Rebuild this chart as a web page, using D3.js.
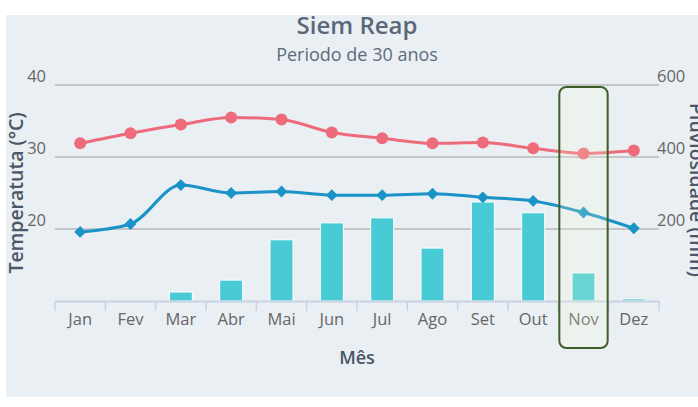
<!DOCTYPE html>
<html>
<head>
<meta charset="utf-8">
<script src="https://cdn.jsdelivr.net/npm/d3@7"></script>
<style>
  body { margin: 0; background: #fff; font-family: "Open Sans", sans-serif; }
  svg { display: block; }
</style>
</head>
<body>
<svg id="chart" width="698" height="407"></svg>
<script>
const months = ["Jan", "Fev", "Mar", "Abr", "Mai", "Jun", "Jul", "Ago", "Set", "Out", "Nov", "Dez"];
const tempMax = [31.9, 33.3, 34.5, 35.5, 35.2, 33.4, 32.6, 31.9, 32.0, 31.2, 30.5, 30.9];
const tempMin = [19.6, 20.7, 26.1, 25.0, 25.2, 24.7, 24.7, 24.9, 24.4, 23.9, 22.3, 20.1];
const rain = [0, 0, 25, 58, 170, 217, 231, 147, 275, 245, 78, 6];
const tempTicks = [20, 30, 40];
const rainTicks = [200, 400, 600];
const highlight = "Nov";

const svg = d3.select("#chart");
const W = 698, H = 407;
const m = { left: 55, right: 659, top: 85, bottom: 301 };

svg.append("rect")
    .attr("x", 6).attr("y", 15)
    .attr("width", W - 6).attr("height", 382)
    .attr("fill", "#eaeff4");

const x = d3.scaleBand().domain(months).range([m.left, m.right]);
const yT = d3.scaleLinear().domain([10, 40]).range([m.bottom, m.top]);
const yR = d3.scaleLinear().domain([0, 600]).range([m.bottom, m.top]);

// grid
svg.append("g").selectAll("line")
    .data(tempTicks)
    .join("line")
    .attr("x1", m.left).attr("x2", m.right)
    .attr("y1", d => yT(d)).attr("y2", d => yT(d))
    .attr("stroke", "#c6c6c6").attr("stroke-width", 2);

// left tick labels
svg.append("g").selectAll("text")
    .data(tempTicks)
    .join("text")
    .attr("x", 46).attr("y", d => yT(d) - 3)
    .attr("text-anchor", "end")
    .attr("font-size", 16.5).attr("fill", "#666")
    .text(d => d);

// right tick labels
svg.append("g").selectAll("text")
    .data(rainTicks)
    .join("text")
    .attr("x", 657).attr("y", d => yR(d) - 3)
    .attr("font-size", 16.5).attr("fill", "#666")
    .text(d => d);

// bars
const bw = 23;
svg.append("g").selectAll("rect")
    .data(rain)
    .join("rect")
    .attr("x", (d, i) => x(months[i]) + x.bandwidth() / 2 - bw / 2)
    .attr("y", d => yR(d))
    .attr("width", bw)
    .attr("height", d => yR(0) - yR(d))
    .attr("fill", "#48cbd5")
    .attr("stroke", d => d > 0 ? "#fff" : "none")
    .attr("stroke-width", 1);

// x axis
const xAxis = svg.append("g")
    .attr("transform", `translate(0,${m.bottom})`)
    .call(d3.axisBottom(x).tickSize(0).tickPadding(12));
xAxis.select(".domain").attr("stroke", "#c5d3e2").attr("stroke-width", 2);
xAxis.selectAll("text").attr("font-size", 16.5).attr("fill", "#666")
    .attr("font-family", "Open Sans");
svg.append("g").selectAll("line")
    .data(d3.range(months.length + 1))
    .join("line")
    .attr("x1", i => m.left + i * x.step()).attr("x2", i => m.left + i * x.step())
    .attr("y1", m.bottom).attr("y2", m.bottom + 10)
    .attr("stroke", "#c5d3e2").attr("stroke-width", 1.5);

const cx = (d, i) => x(months[i]) + x.bandwidth() / 2;

// lines
const lineMax = d3.line().x(cx).y(d => yT(d)).curve(d3.curveMonotoneX);
const lineMin = d3.line().x(cx).y(d => yT(d)).curve(d3.curveMonotoneX);

svg.append("path").attr("d", lineMax(tempMax))
    .attr("fill", "none").attr("stroke", "#ee6b7b").attr("stroke-width", 3);
svg.append("g").selectAll("circle")
    .data(tempMax)
    .join("circle")
    .attr("cx", cx).attr("cy", d => yT(d)).attr("r", 6)
    .attr("fill", "#ee6b7b");

svg.append("path").attr("d", lineMin(tempMin))
    .attr("fill", "none").attr("stroke", "#1a93c6").attr("stroke-width", 3);
svg.append("g").selectAll("path")
    .data(tempMin)
    .join("path")
    .attr("d", d3.symbol().type(d3.symbolDiamond2).size(90))
    .attr("transform", (d, i) => `translate(${cx(d, i)},${yT(d)})`)
    .attr("fill", "#1a93c6");

// highlight box
svg.append("rect")
    .attr("x", x(highlight) + 1).attr("y", 87)
    .attr("width", x.bandwidth() - 2).attr("height", 261)
    .attr("rx", 7)
    .attr("fill", "#f6fdd0").attr("fill-opacity", 0.2)
    .attr("stroke", "#3e5e29").attr("stroke-width", 2);

// titles
svg.append("text")
    .attr("x", 357).attr("y", 34)
    .attr("text-anchor", "middle")
    .attr("font-size", 24).attr("font-weight", 600).attr("fill", "#5a687a")
    .text("Siem Reap");
svg.append("text")
    .attr("x", 357).attr("y", 61)
    .attr("text-anchor", "middle")
    .attr("font-size", 18).attr("fill", "#5e6b7c")
    .text("Periodo de 30 anos");

svg.append("text")
    .attr("x", 357).attr("y", 364)
    .attr("text-anchor", "middle")
    .attr("font-size", 18).attr("font-weight", 600).attr("fill", "#4b5668")
    .text("Mês");

svg.append("text")
    .attr("transform", "translate(23,193) rotate(-90)")
    .attr("text-anchor", "middle")
    .attr("font-size", 19.5).attr("font-weight", 600).attr("fill", "#4b5668")
    .text("Temperatuta (°C)");

svg.append("text")
    .attr("transform", "translate(690,190) rotate(90)")
    .attr("text-anchor", "middle")
    .attr("font-size", 19.5).attr("font-weight", 600).attr("fill", "#4b5668")
    .text("Pluviosidade (mm)");
</script>
</body>
</html>
